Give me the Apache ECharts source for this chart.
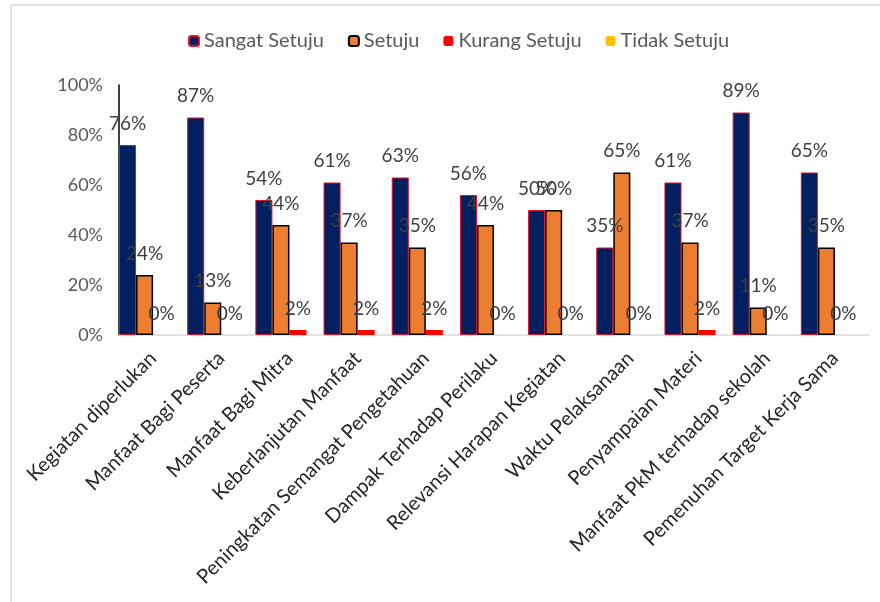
<!DOCTYPE html>
<html><head><meta charset="utf-8">
<script src="https://cdn.jsdelivr.net/npm/echarts@6/dist/echarts.min.js"></script>
<style>html,body{margin:0;padding:0;background:#fff}#c{width:880px;height:602px}</style>
</head><body><div id="c"></div>
<script>
const categories = ["Kegiatan diperlukan","Manfaat Bagi Peserta","Manfaat Bagi Mitra","Keberlanjutan Manfaat","Peningkatan Semangat Pengetahuan","Dampak Terhadap Perilaku","Relevansi Harapan Kegiatan","Waktu Pelaksanaan","Penyampaian Materi","Manfaat PkM terhadap sekolah","Pemenuhan Target Kerja Sama"];
const sangatSetuju = [76,87,54,61,63,56,50,35,61,89,65];
const setuju = [24,13,44,37,35,44,50,65,37,11,35];
const kurangSetuju = [0,0,2,2,2,0,0,0,2,0,0];
const tidakSetuju = [0,0,0,0,0,0,0,0,0,0,0];
const yTicks = [0,20,40,60,80,100];

const font = 'Lato';
const lbl = {show:true, position:'top', distance:12, formatter:'{c}%', color:'#404040', fontSize:19, fontFamily:font};
const chart = echarts.init(document.getElementById('c'));
chart.setOption({
  animation:false,
  textStyle:{fontFamily:font},
  graphic:[
    {type:'line', shape:{x1:11,y1:5,x2:880,y2:5}, style:{stroke:'#d9d9d9',lineWidth:1.5}},
    {type:'line', shape:{x1:11,y1:5,x2:11,y2:602}, style:{stroke:'#d9d9d9',lineWidth:1.5}}
  ],
  legend:{top:26, left:183, itemWidth:10, itemHeight:10, itemGap:24,
    textStyle:{color:'#595959', fontSize:20, fontFamily:font},
    data:['Sangat Setuju','Setuju','Kurang Setuju','Tidak Setuju']},
  grid:{left:119, right:11, top:85, bottom:267, containLabel:false},
  xAxis:{type:'category', data:categories,
    axisLine:{lineStyle:{color:'#d9d9d9', width:1.5}}, axisTick:{show:false},
    axisLabel:{rotate:45, interval:0, color:'#262626', fontSize:20, fontFamily:font, margin:20}},
  yAxis:{type:'value', min:yTicks[0], max:yTicks[yTicks.length-1], interval:20,
    axisLine:{show:true, lineStyle:{color:'#000', width:1.5}}, axisTick:{show:false},
    splitLine:{show:false},
    axisLabel:{formatter:'{value}%', color:'#595959', fontSize:18, fontFamily:font, margin:16}},
  series:[
    {name:'Sangat Setuju', type:'bar', data:sangatSetuju, barGap:'0%', barCategoryGap:'0%',
      itemStyle:{color:'#002060', borderColor:'#e0102a', borderWidth:1}, label:lbl},
    {name:'Setuju', type:'bar', data:setuju,
      itemStyle:{color:'#ED7D31', borderColor:'#000', borderWidth:1.5}, label:lbl},
    {name:'Kurang Setuju', type:'bar', data:kurangSetuju,
      itemStyle:{color:'#FF0000'}, label:lbl},
    {name:'Tidak Setuju', type:'bar', data:tidakSetuju,
      itemStyle:{color:'#FFC000'}, label:{show:false}}
  ]
});
</script></body></html>
